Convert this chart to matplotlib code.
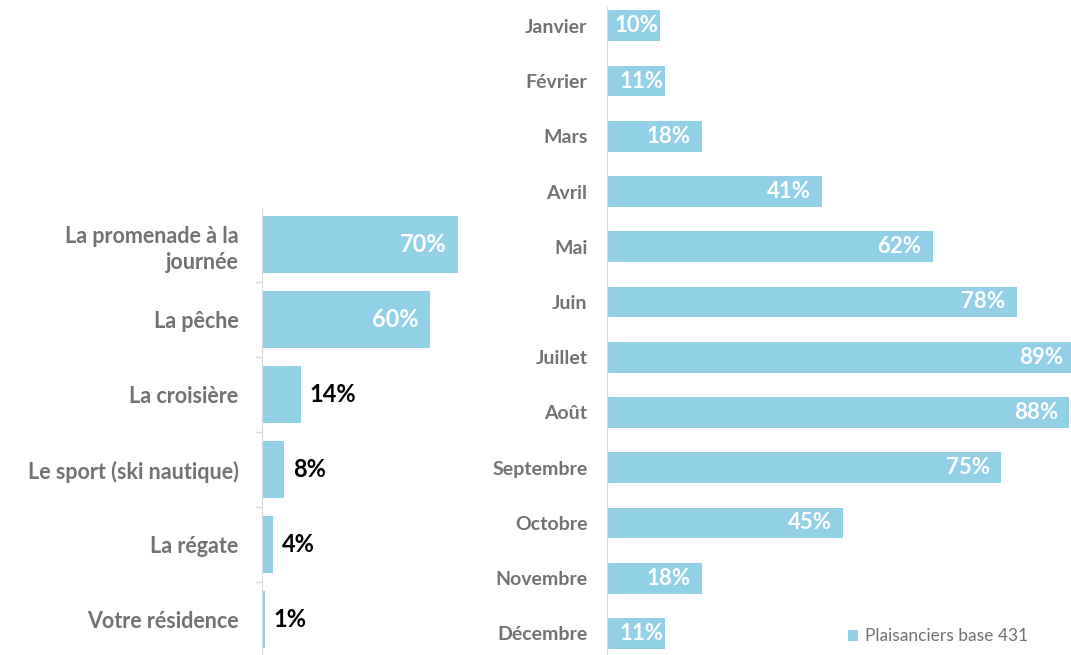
import numpy as np
import matplotlib.pyplot as plt

plt.rcParams['font.family'] = ['Lato', 'DejaVu Sans']

# left chart: activities
activites = ['La promenade à la\njournée', 'La pêche', 'La croisière',
             'Le sport (ski nautique)', 'La régate', 'Votre résidence']
activites_pct = [70, 60, 14, 8, 4, 1]

# right chart: months
mois = ['Janvier', 'Février', 'Mars', 'Avril', 'Mai', 'Juin', 'Juillet',
        'Août', 'Septembre', 'Octobre', 'Novembre', 'Décembre']
mois_pct = [10, 11, 18, 41, 62, 78, 89, 88, 75, 45, 18, 11]
serie = 'Plaisanciers base 431'

bleu = '#93D1E9'
gris_txt = '#767171'
gris_axe = '#D9D9D9'

W, H = 1071, 655
fig = plt.figure(figsize=(W / 100, H / 100), dpi=100)

# left axes: spine at x=262px, 2.8 px per %
ax1 = fig.add_axes([262 / W, 0, 280 / W, 1 - 208 / H])
y1 = np.arange(len(activites))
ax1.barh(y1, activites_pct, height=0.76, color=bleu)
ax1.set_xlim(0, 100)
ax1.set_ylim(5.47, -0.49)
ax1.set_yticks(y1)
ax1.set_yticklabels(activites, fontsize=15.5, fontweight='bold',
                    color=gris_txt, linespacing=1.3)
ax1.tick_params(axis='y', which='major', length=0, pad=17)
ax1.set_yticks(y1[:-1] + 0.5, minor=True)
ax1.tick_params(axis='y', which='minor', length=5, color=gris_axe, width=1)
ax1.set_xticks([])
for s in ['top', 'right', 'bottom']:
    ax1.spines[s].set_visible(False)
ax1.spines['left'].set_color(gris_axe)
for yi, v in zip(y1, activites_pct):
    if v >= 30:
        ax1.annotate(f'{v}%', (v, yi), xytext=(-8, 0), textcoords='offset points',
                     ha='right', va='center', fontsize=17, fontweight='bold',
                     color='white')
    else:
        ax1.annotate(f'{v}%', (v, yi), xytext=(6, 0), textcoords='offset points',
                     ha='left', va='center', fontsize=17, fontweight='bold',
                     color='black')

# right axes: spine at x=607px, 5.25 px per %
ax2 = fig.add_axes([607 / W, 0, 525 / W, 1 - 7 / H])
y2 = np.arange(len(mois))
bars = ax2.barh(y2, mois_pct, height=0.56, color=bleu, label=serie)
ax2.set_xlim(0, 100)
ax2.set_ylim(11.39, -0.34)
ax2.set_yticks(y2)
ax2.set_yticklabels(mois, fontsize=14, fontweight='bold', color=gris_txt)
ax2.tick_params(axis='y', length=0, pad=14)
ax2.set_xticks([])
for s in ['top', 'right', 'bottom']:
    ax2.spines[s].set_visible(False)
ax2.spines['left'].set_color(gris_axe)
for yi, v in zip(y2, mois_pct):
    pad = -1 if v < 15 else -8
    ax2.annotate(f'{v}%', (v, yi), xytext=(pad, 0), textcoords='offset points',
                 ha='right', va='center', fontsize=16, fontweight='bold',
                 color='white')

fig.legend(handles=[bars], labels=[serie], loc='lower right',
           bbox_to_anchor=(1044 / W, -5 / H), frameon=False, fontsize=12.5,
           handlelength=0.6, handleheight=0.6, handletextpad=0.4,
           labelcolor=gris_txt)

fig.savefig('out.png', dpi=100)
